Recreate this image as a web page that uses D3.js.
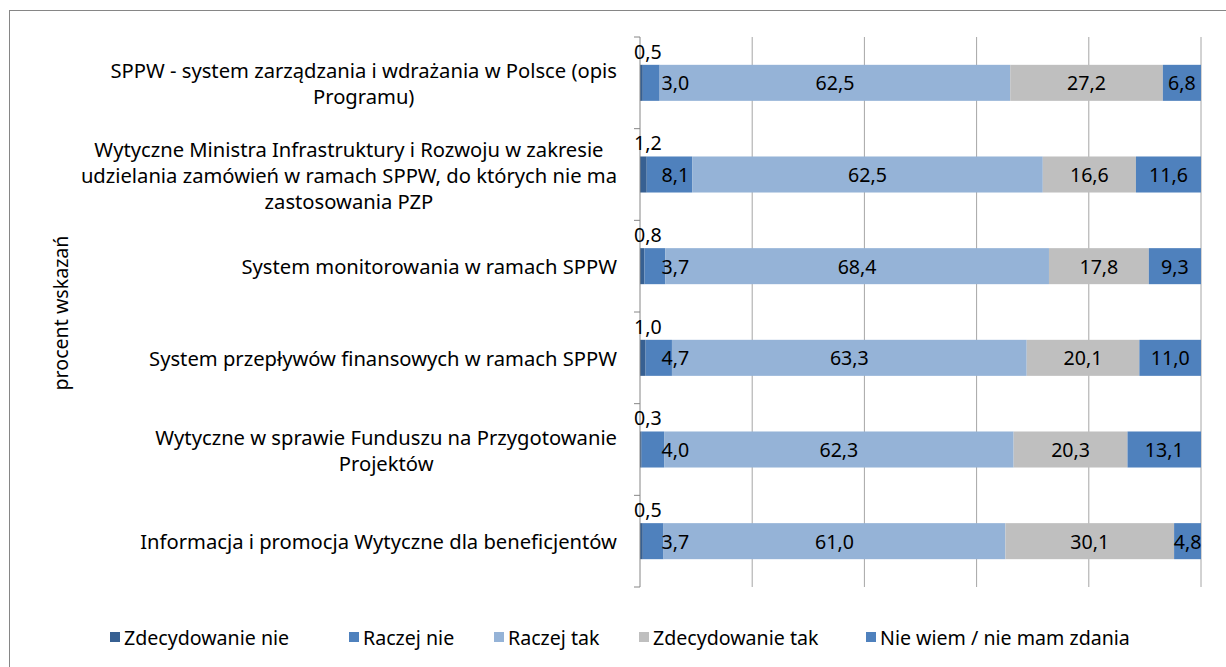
<!DOCTYPE html>
<html>
<head>
<meta charset="utf-8">
<script src="https://cdn.jsdelivr.net/npm/d3@7"></script>
<style>
  body { margin: 0; background: #fff; }
  svg { display: block; font-family: 'Noto Sans', sans-serif; }
</style>
</head>
<body>
<svg id="chart" width="1226" height="667"></svg>
<script>
const categories = [
  'SPPW - system zarządzania i wdrażania w Polsce (opis\nProgramu)',
  'Wytyczne Ministra Infrastruktury i Rozwoju w zakresie\nudzielania zamówień w ramach SPPW, do których nie ma\nzastosowania PZP',
  'System monitorowania w ramach SPPW',
  'System przepływów finansowych w ramach SPPW',
  'Wytyczne w sprawie Funduszu na Przygotowanie\nProjektów',
  'Informacja i promocja Wytyczne dla beneficjentów'
];
const seriesNames = ['Zdecydowanie nie', 'Raczej nie', 'Raczej tak', 'Zdecydowanie tak', 'Nie wiem / nie mam zdania'];
const zdecydowanieNie = [0.5, 1.2, 0.8, 1.0, 0.3, 0.5];
const raczejNie = [3.0, 8.1, 3.7, 4.7, 4.0, 3.7];
const raczejTak = [62.5, 62.5, 68.4, 63.3, 62.3, 61.0];
const zdecydowanieTak = [27.2, 16.6, 17.8, 20.1, 20.3, 30.1];
const nieWiem = [6.8, 11.6, 9.3, 11.0, 13.1, 4.8];
const xTicks = [0, 20, 40, 60, 80, 100];

const colors = ['#376092', '#4F81BD', '#95B3D7', '#BFBFBF', '#4F81BD'];
const seriesValues = [zdecydowanieNie, raczejNie, raczejTak, zdecydowanieTak, nieWiem];

const rows = categories.map((c, i) => {
  const r = {cat: c};
  seriesNames.forEach((s, j) => r[s] = seriesValues[j][i]);
  return r;
});

const svg = d3.select('#chart');
const fmt = v => d3.format('.1f')(v).replace('.', ',');
const fontSize = '19.6px';

// chart frame (only top/left visible in the reference)
svg.append('rect')
  .attr('x', 9.5).attr('y', 10.5)
  .attr('width', 1240).attr('height', 680)
  .style('fill', 'none').style('stroke', '#868686');

const x = d3.scaleLinear().domain([0, 100]).range([640, 1201]);
const y = d3.scaleBand().domain(categories).range([37, 587])
  .paddingInner(0.607).paddingOuter(0.3035);

// normalised stack (100% stacked)
const stacked = d3.stack().keys(seriesNames).offset(d3.stackOffsetExpand)(rows);

// gridlines
svg.append('g').selectAll('line')
  .data(xTicks.slice(1))
  .join('line')
  .attr('x1', d => x(d)).attr('x2', d => x(d))
  .attr('y1', 37).attr('y2', 587)
  .style('stroke', '#A6A6A6').style('stroke-width', 1);

// bars
const layer = svg.append('g').selectAll('g')
  .data(stacked)
  .join('g')
  .style('fill', (d, i) => colors[i]);

layer.selectAll('rect')
  .data(d => d)
  .join('rect')
  .attr('x', d => x(d[0] * 100))
  .attr('width', d => x(d[1] * 100) - x(d[0] * 100))
  .attr('y', d => y(d.data.cat))
  .attr('height', y.bandwidth());

// y axis line + ticks at band boundaries
const step = y.step();
const bounds = categories.map(c => y(c) - step * y.paddingInner() / 2);
bounds.push(587);
svg.append('line')
  .attr('x1', x(0)).attr('x2', x(0)).attr('y1', 37).attr('y2', 587)
  .style('stroke', '#868686');
svg.append('g').selectAll('line')
  .data(bounds)
  .join('line')
  .attr('x1', x(0) - 6).attr('x2', x(0))
  .attr('y1', d => d).attr('y2', d => d)
  .style('stroke', '#868686');

// value labels
stacked.forEach((s, si) => {
  s.forEach(d => {
    const v = d.data[s.key];
    const mid = (d[0] + d[1]) * 50;
    let lx = x(mid), ly = y(d.data.cat) + y.bandwidth() / 2, base = 'central';
    if (si === 0) { lx = x(1.4); ly = y(d.data.cat) - 6; base = 'auto'; }
    if (si === 1) { lx = x(Math.max(mid, 6.3)); }
    svg.append('text')
      .attr('x', lx).attr('y', ly)
      .attr('text-anchor', 'middle')
      .attr('dominant-baseline', base)
      .style('font-size', fontSize)
      .style('fill', '#000')
      .text(fmt(v));
  });
});

// category labels: wrapped lines centred within a right-aligned block
const lineH = 26;
categories.forEach(c => {
  const lines = c.split('\n');
  const g = svg.append('g');
  const texts = g.selectAll('text').data(lines).join('text')
    .style('font-size', '20.2px')
    .attr('text-anchor', 'middle')
    .attr('dominant-baseline', 'central')
    .text(d => d);
  let w = 0;
  texts.each(function() { w = Math.max(w, this.getComputedTextLength()); });
  const cx = 617 - w / 2;
  const cy = y(c) + y.bandwidth() / 2;
  texts.attr('x', cx)
    .attr('y', (d, i) => cy + (i - (lines.length - 1) / 2) * lineH);
});

// y axis title
svg.append('text')
  .attr('transform', 'translate(60,313) rotate(-90)')
  .attr('text-anchor', 'middle')
  .attr('dominant-baseline', 'central')
  .style('font-size', fontSize)
  .text('procent wskazań');

// legend
const legendX = [110, 349, 494, 639, 866];
const legend = svg.append('g').selectAll('g')
  .data(seriesNames)
  .join('g')
  .attr('transform', (d, i) => `translate(${legendX[i]},637)`);
legend.append('rect')
  .attr('x', 0).attr('y', -5).attr('width', 10).attr('height', 10)
  .style('fill', (d, i) => colors[i]);
legend.append('text')
  .attr('x', 14).attr('y', 0)
  .attr('dominant-baseline', 'central')
  .style('font-size', fontSize)
  .text(d => d);
</script>
</body>
</html>
